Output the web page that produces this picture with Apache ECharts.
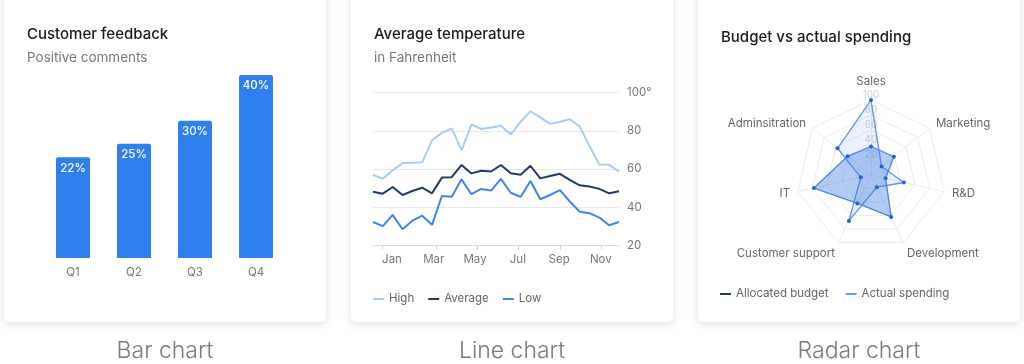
<!DOCTYPE html>
<html><head><meta charset="utf-8">
<script src="https://cdn.jsdelivr.net/npm/echarts@6/dist/echarts.min.js"></script>
<style>html,body{margin:0;padding:0;background:#fff}#c{width:1024px;height:364px}</style>
</head><body><div id="c"></div>
<script>
// ---- Bar chart data
const quarters = ['Q1', 'Q2', 'Q3', 'Q4'];
const positiveComments = [22, 25, 30, 40];

// ---- Line chart data (biweekly readings, °F)
const tempHigh = [56.9, 54.9, 59.3, 63.1, 63.3, 63.5, 75.0, 78.9, 81.2, 69.9, 83.3, 80.9, 81.7, 82.6, 78.1, 84.7, 90.2, 87.0, 83.6, 84.7, 86.0, 82.3, 72.0, 62.3, 62.2, 58.6];
const tempAverage = [48.1, 47.1, 50.6, 46.4, 48.5, 50.2, 47.3, 55.5, 55.7, 62.1, 57.7, 59.1, 58.7, 62.1, 57.8, 57.0, 61.7, 55.1, 56.3, 57.5, 54.3, 51.5, 50.8, 49.6, 47.3, 48.4];
const tempLow = [32.3, 30.1, 36.0, 28.5, 33.0, 35.6, 30.8, 45.9, 45.5, 54.6, 46.8, 49.6, 48.7, 54.8, 47.6, 45.4, 53.7, 44.2, 46.4, 49.0, 43.0, 37.7, 36.9, 34.6, 30.6, 32.3];
const monthLabels = ['Jan', 'Mar', 'May', 'Jul', 'Sep', 'Nov'];
const monthLabelAt = [1.93, 6.17, 10.37, 14.72, 18.92, 23.15];
const monthTickAt = [0.97, 6.47, 10.64, 14.81, 19.0, 23.17];
const tempTicks = [20, 40, 60, 80, 100];

// ---- Radar data
const departments = ['Sales', 'Adminsitration', 'IT', 'Customer support', 'Development', 'R&D', 'Marketing'];
const allocatedBudget = [100, 57, 14, 68, 18, 45, 18];
const actualSpending = [38, 40, 78, 42, 62, 20, 39];

const FONT = 'Inter, "Noto Sans", sans-serif';
const chart = echarts.init(document.getElementById('c'), null, {renderer: 'canvas'});

function card(x) {
  return {type: 'rect', z: -10, shape: {x: x, y: -10, width: 322, height: 332, r: 5},
    style: {fill: '#fff', shadowBlur: 10, shadowColor: 'rgba(0,0,0,0.13)', shadowOffsetY: 2}};
}
function caption(x, t) {
  return {type: 'text', z: -5, style: {text: t, x: x, y: 351, align: 'center', verticalAlign: 'middle',
    font: '300 23px Inter', fill: '#7a7a7a'}};
}
const titleBase = {padding: 0, itemGap: 5,
  textStyle: {fontFamily: FONT, fontSize: 15, fontWeight: 500, color: '#1b1b1b', lineHeight: 20},
  subtextStyle: {fontFamily: FONT, fontSize: 13.5, color: '#777', lineHeight: 18}};

const indicators = departments.map(function (n, i) {
  const o = {name: n, min: 0, max: 100};
  if (i === 0) {
    o.axisLabel = {show: true, color: '#cfcfcf', fontSize: 10, showMinLabel: false, margin: 0, align: 'center', verticalAlign: 'bottom', fontFamily: FONT};
  }
  return o;
});
const nameStyleKey = {'Sales': 'up', 'Development': 'down', 'Customer support': 'down'};

chart.setOption({
  animation: false,
  textStyle: {fontFamily: FONT},
  graphic: [card(4), card(351), card(698),
    caption(165, 'Bar chart'), caption(512, 'Line chart'), caption(859, 'Radar chart')],
  title: [
    Object.assign({}, titleBase, {text: 'Customer feedback', subtext: 'Positive comments', left: 27, top: 24}),
    Object.assign({}, titleBase, {text: 'Average temperature', subtext: 'in Fahrenheit', left: 374, top: 24}),
    Object.assign({}, titleBase, {text: 'Budget vs actual spending', left: 721, top: 27.5})
  ],
  legend: [
    {data: ['High', 'Average', 'Low'], left: 373, top: 293, padding: 0, icon: 'rect', itemWidth: 11, itemHeight: 2, itemGap: 14,
      textStyle: {color: '#666', fontSize: 11.5, fontFamily: FONT}},
    {data: [{name: 'Allocated budget', itemStyle: {color: '#1f3b66'}}, {name: 'Actual spending', itemStyle: {color: '#5c9cf2'}}],
      left: 720, top: 288, padding: 0, icon: 'rect', itemWidth: 11, itemHeight: 2, itemGap: 17,
      textStyle: {color: '#666', fontSize: 11.5, fontFamily: FONT}}
  ],
  grid: [
    {left: 42.5, top: 75, width: 244, height: 183},
    {left: 373, top: 92.5, width: 246, height: 153}
  ],
  xAxis: [
    {gridIndex: 0, type: 'category', data: quarters, axisLine: {show: false}, axisTick: {show: false},
      axisLabel: {color: '#777', fontSize: 11.5, margin: 9}},
    {gridIndex: 1, type: 'value', min: 0, max: tempHigh.length - 1, splitLine: {show: false},
      axisLine: {show: true, onZero: false, lineStyle: {color: '#dcdcdc'}},
      axisTick: {show: true, length: 4, customValues: monthTickAt, lineStyle: {color: '#cfcfcf'}},
      axisLabel: {customValues: monthLabelAt, color: '#777', fontSize: 11.5, margin: 8,
        formatter: function (v) { const i = monthLabelAt.indexOf(v); return i >= 0 ? monthLabels[i] : ''; }}}
  ],
  yAxis: [
    {gridIndex: 0, type: 'value', min: 0, max: 40, show: false},
    {gridIndex: 1, type: 'value', position: 'right', min: 20, max: 100, interval: 20,
      axisLine: {show: false}, axisTick: {show: false},
      splitLine: {lineStyle: {color: '#e8e8e8'}},
      axisLabel: {color: '#777', fontSize: 11.5, margin: 8,
        formatter: function (v) { return v === tempTicks[tempTicks.length - 1] ? v + '°' : String(v); }}}
  ],
  radar: {
    center: [871, 175], radius: 75, startAngle: 90, splitNumber: 5, shape: 'polygon',
    indicator: indicators, nameGap: 8,
    axisName: {color: '#666', fontSize: 11.5, fontFamily: FONT,
      formatter: function (name) { const k = nameStyleKey[name]; return k ? '{' + k + '|' + name + '}' : name; },
      rich: {up: {padding: [0, 0, 4, 0], color: '#666', fontSize: 11.5, fontFamily: FONT},
             down: {padding: [7, 0, 0, 0], color: '#666', fontSize: 11.5, fontFamily: FONT}}},
    splitLine: {lineStyle: {color: '#ececec'}}, splitArea: {show: false},
    axisLine: {lineStyle: {color: '#ececec'}}
  },
  series: [
    {type: 'bar', xAxisIndex: 0, yAxisIndex: 0, data: positiveComments, barWidth: 34,
      itemStyle: {color: '#2f80ed', borderRadius: [2, 2, 0, 0]},
      label: {show: true, position: 'insideTop', distance: 5, color: '#fff', fontSize: 11.5, fontWeight: 500,
        formatter: function (p) { return p.value + '%'; }}},
    {type: 'line', name: 'High', xAxisIndex: 1, yAxisIndex: 1, showSymbol: false, color: '#a9cbf7',
      lineStyle: {width: 2}, data: tempHigh.map(function (v, i) { return [i, v]; })},
    {type: 'line', name: 'Average', xAxisIndex: 1, yAxisIndex: 1, showSymbol: false, color: '#1f3b66',
      lineStyle: {width: 2}, data: tempAverage.map(function (v, i) { return [i, v]; })},
    {type: 'line', name: 'Low', xAxisIndex: 1, yAxisIndex: 1, showSymbol: false, color: '#3b86f0',
      lineStyle: {width: 2}, data: tempLow.map(function (v, i) { return [i, v]; })},
    {type: 'radar', symbol: 'circle', symbolSize: 4,
      data: [
        {name: 'Allocated budget', value: allocatedBudget,
          itemStyle: {color: '#1f63d6'}, lineStyle: {color: '#5b93ec', width: 1.3},
          areaStyle: {color: 'rgba(90,145,235,0.16)'}},
        {name: 'Actual spending', value: actualSpending,
          itemStyle: {color: '#1f63d6'}, lineStyle: {color: '#4f88e6', width: 1.3},
          areaStyle: {color: 'rgba(55,120,225,0.55)'}}
      ]}
  ]
});
</script></body></html>
